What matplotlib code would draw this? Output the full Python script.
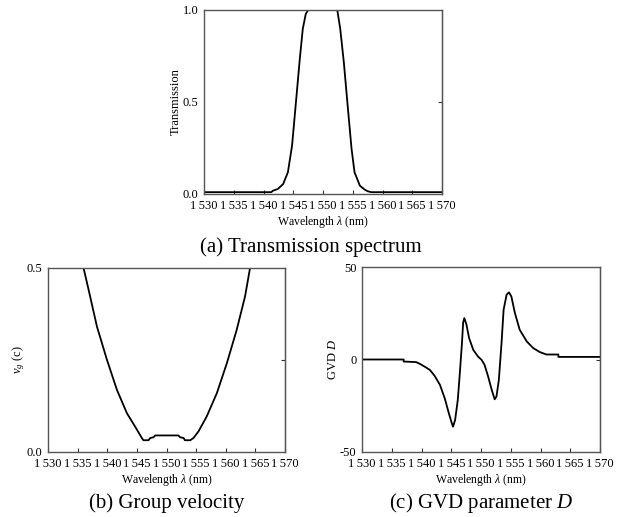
import matplotlib
matplotlib.use("Agg")
import matplotlib.pyplot as plt
import numpy as np

plt.rcParams.update({"font.family": ["Liberation Serif", "DejaVu Serif"],
                     "mathtext.fontset": "custom",
                     "mathtext.it": "Liberation Serif:italic",
                     "mathtext.rm": "Liberation Serif",
                     "font.size": 9})

XTICKS = [1530, 1535, 1540, 1545, 1550, 1555, 1560, 1565, 1570]
XLABELS = ["1\u2009%03d" % (t - 1000) for t in XTICKS]

# (a) transmission
wl_a = [1530, 1541.3, 1541.6, 1542.4, 1543.3, 1544.1, 1544.8, 1545.5, 1546.1,
        1546.6, 1547.1, 1547.5, 1552.4, 1552.9, 1553.5, 1554.2, 1554.8,
        1555.3, 1556.2, 1557.0, 1557.5, 1558.1, 1570]
tr_a = [0.01, 0.01, 0.018, 0.027, 0.054, 0.118, 0.263, 0.516, 0.734,
        0.897, 0.978, 1.0, 1.0, 0.897, 0.716, 0.46, 0.245,
        0.118, 0.045, 0.024, 0.015, 0.01, 0.01]

# (b) group velocity
wl_b = [1536.0, 1536.85, 1538.26, 1539.94, 1541.63, 1543.3, 1545.0, 1545.84,
        1546.1, 1546.97, 1547.25, 1547.8, 1548.1, 1552.0, 1552.3, 1552.9,
        1553.1, 1554.0, 1554.55, 1555.4, 1556.8, 1558.5, 1560.2, 1561.85,
        1563.26, 1564.1]
vg_b = [0.5, 0.441, 0.341, 0.251, 0.169, 0.106, 0.061, 0.038,
        0.032, 0.032, 0.038, 0.040, 0.045, 0.045, 0.040, 0.038,
        0.032, 0.032, 0.038, 0.056, 0.097, 0.16, 0.242, 0.332,
        0.423, 0.5]

# (c) GVD parameter
wl_c = [1530, 1537.0, 1537.0, 1539.1, 1539.7, 1540.5, 1541.4, 1542.2, 1543.1,
        1543.9, 1544.6, 1545.1, 1545.3, 1545.65, 1546.1, 1546.4, 1546.8,
        1547.0, 1547.2, 1547.56, 1548.0, 1548.7, 1549.5, 1550.1, 1550.6,
        1551.2, 1551.8, 1552.3, 1552.6, 1553.0, 1553.45, 1553.8, 1554.3,
        1554.7, 1555.1, 1555.7, 1556.5, 1557.7, 1558.8, 1559.9, 1561.0,
        1563.0, 1563.0, 1570]
gvd_c = [0, 0, -1.1, -1.4, -2.3, -3.8, -5.6, -8.8, -13.7,
         -20.9, -29.1, -34.5, -36.3, -32.7, -21.8, -9.2, 8.8,
         20, 22.4, 18.8, 11.6, 5.2, 1.6, -0.2, -2.9,
         -9.2, -16.4, -21.5, -20, -11, 8.8, 26.9, 35,
         36.3, 34.1, 25.1, 16.1, 9.7, 6.1, 4.0, 2.7,
         2.7, 1.4, 1.4]

W, H = 626, 517
fig = plt.figure(figsize=(W / 100, H / 100), dpi=100)


def make_ax(x0, x1, y0, y1):
    return fig.add_axes([x0 / W, 1 - y1 / H, (x1 - x0) / W, (y1 - y0) / H])


def style(ax, ylim, yticks, ylabels, ylabel, right_tick, lpad):
    ax.set_xlim(1530, 1570)
    ax.set_ylim(*ylim)
    ax.set_xticks(XTICKS)
    ax.set_xticklabels(XLABELS, fontsize=9)
    ax.set_yticks(yticks)
    ax.set_yticklabels(ylabels, fontsize=9)
    ax.tick_params(axis="x", direction="in", length=3, width=0.8, pad=4.5,
                   color="#333333")
    ax.tick_params(axis="y", length=0, pad=4)
    for s in ax.spines.values():
        s.set_color("#555555")
        s.set_linewidth(1.0)
    ax.set_xlabel("Wavelength $\\mathit{\\lambda}$ (nm)", fontsize=8.5, labelpad=1)
    ax.set_ylabel(ylabel, fontsize=9, labelpad=lpad)
    sec = ax.secondary_yaxis("right")
    sec.set_yticks([right_tick])
    sec.set_yticklabels([""])
    sec.tick_params(direction="in", length=3, color="#333333")


ax_a = make_ax(204, 442, 10, 194)
ax_a.plot(wl_a, tr_a, color="black", lw=1.3)
style(ax_a, (0, 1.0), [0, 0.5, 1.0], ["0.0", "0.5", "1.0"], "Transmission", 0.5, 0.5)

ax_b = make_ax(48, 285, 268, 452)
ax_b.plot(wl_b, vg_b, color="black", lw=1.3)
style(ax_b, (0, 0.5), [0, 0.5], ["0.0", "0.5"], "$v_g$ (c)", 0.25, -0.5)

ax_c = make_ax(362, 600, 267, 452)
ax_c.plot(wl_c, gvd_c, color="black", lw=1.3)
style(ax_c, (-50, 50), [-50, 0, 50], ["-50", "0", "50"], "GVD $D$", 0, 0.5)

fig.text(311 / W, 1 - 247 / H, "(a) Transmission spectrum", fontsize=15,
         ha="center", va="center")
fig.text(167 / W, 1 - 503 / H, "(b) Group velocity", fontsize=15,
         ha="center", va="center")
fig.text(481 / W, 1 - 503 / H, "(c) GVD parameter $D$", fontsize=15,
         ha="center", va="center")

fig.savefig("out.png", dpi=100)
